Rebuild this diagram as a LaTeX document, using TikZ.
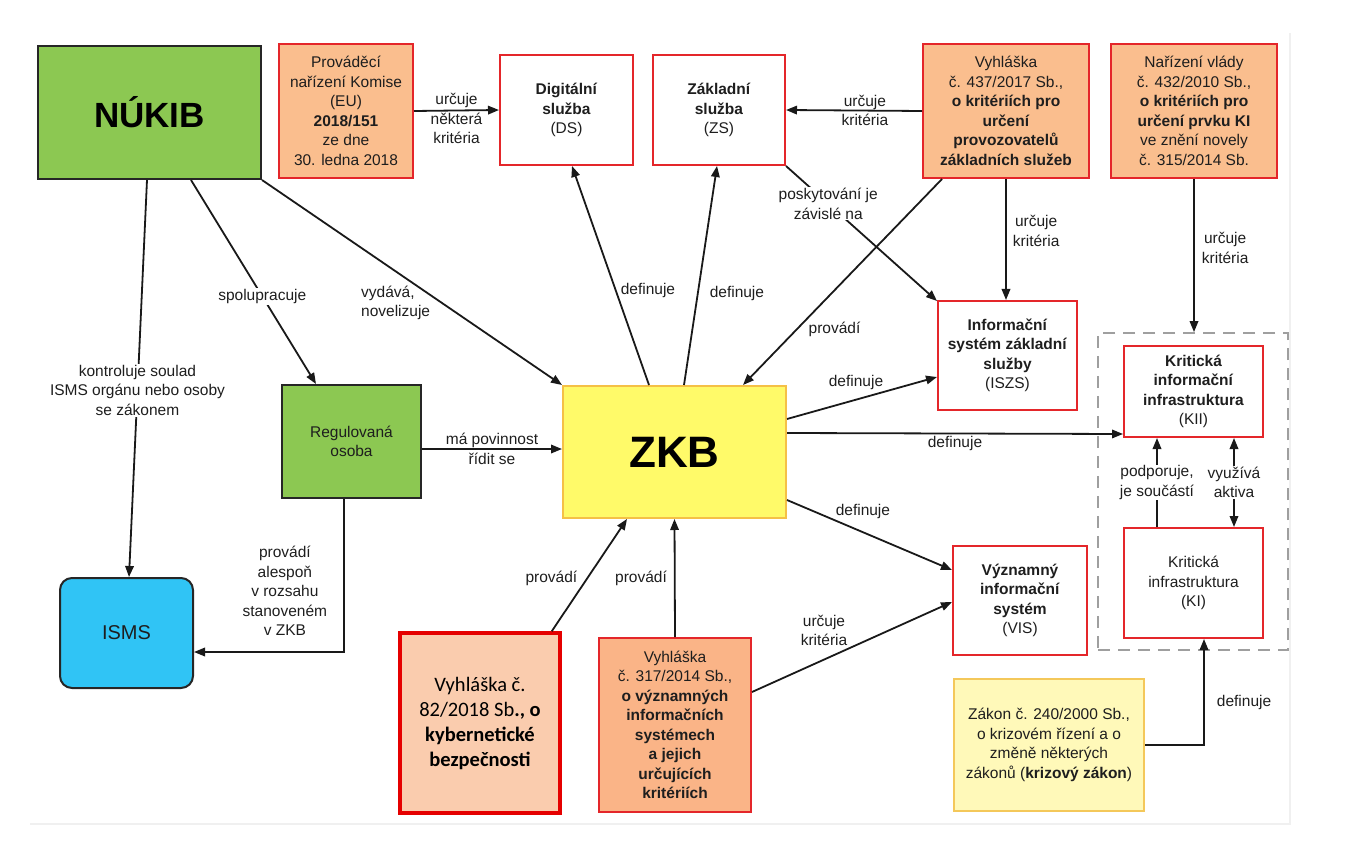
\documentclass[tikz,border=0pt]{standalone}
\usepackage{fontspec}
\setmainfont{Liberation Sans}
\newfontfamily\carlito{Carlito}
\usepackage{xcolor}
\usetikzlibrary{arrows.meta, positioning, calc}

\definecolor{nukibgreen}{RGB}{140,200,82}
\definecolor{lawred}{RGB}{228,38,42}
\definecolor{laworange}{RGB}{250,190,142}
\definecolor{lawpeach}{RGB}{250,204,174}
\definecolor{zkbyellow}{RGB}{255,250,105}
\definecolor{zkbborder}{RGB}{245,192,70}
\definecolor{ismsblue}{RGB}{48,196,245}
\definecolor{zakonfill}{RGB}{255,249,185}
\definecolor{zakonborder}{RGB}{244,200,90}
\definecolor{txt}{RGB}{30,30,30}

\tikzset{wh/.style 2 args={minimum width=#1pt, minimum height=#2pt, inner sep=2pt}}

\begin{document}
\begin{tikzpicture}[
  x=1pt, y=-1pt,
  every node/.style = {font=\fontsize{15.5}{19.5}\selectfont, text=txt, align=center},
  gbox/.style  = {draw=black!85, line width=2pt, fill=nukibgreen},
  rbox/.style  = {draw=lawred, line width=2pt, fill=white},
  obox/.style  = {draw=lawred, line width=2pt, fill=laworange},
  lbl/.style   = {inner sep=1pt},
  wlbl/.style  = {lbl, fill=white},
  grp/.style   = {draw=gray!75, line width=1.8pt, dash pattern=on 12pt off 8pt},
  arr/.style   = {-{Triangle[length=11pt,width=8.5pt]}, line width=1.8pt, draw=black!90},
  pageedge/.style = {draw=gray!12, line width=2.5pt},
]
\useasboundingbox (0,0) rectangle (1365,842);
\draw[pageedge] (30,824) -- (1290,824) -- (1290,33);

% Row 1 -- authority and regulations on top
\node[gbox, wh={223}{133}, font=\bfseries\fontsize{35}{40}\selectfont, text=black] (nukib) at (149.5,112.5) {NÚKIB};
\node[obox, wh={134}{134}] (prov) at (346,111)
  {Prováděcí\\nařízení Komise\\(EU)\\\textbf{2018/151}\\ze dne\\30. ledna 2018};
\node[rbox, wh={133}{110}] (ds) at (566.5,110) {\textbf{Digitální}\\\textbf{služba}\\(DS)};
\node[rbox, wh={132}{110}] (zs) at (719,110) {\textbf{Základní}\\\textbf{služba}\\(ZS)};
\node[obox, wh={166}{134}] (v437) at (1006,111)
  {Vyhláška\\č. 437/2017 Sb.,\\\textbf{o kritériích pro}\\\textbf{určení}\\\textbf{provozovatelů}\\\textbf{základních služeb}};
\node[obox, wh={166}{134}] (nv) at (1194,111)
  {Nařízení vlády\\č. 432/2010 Sb.,\\\textbf{o kritériích pro}\\\textbf{určení prvku KI}\\ve znění novely\\č. 315/2014 Sb.};

% Row 2 -- middle
\node[rbox, wh={139}{109}] (iszs) at (1007.5,355.5)
  {\textbf{Informační}\\\textbf{systém základní}\\\textbf{služby}\\(ISZS)};
\node[gbox, wh={139}{113}] (reg) at (351.5,441.5) {Regulovaná\\osoba};
\node[draw=zkbborder, line width=2pt, fill=zkbyellow, wh={223}{132},
      font=\bfseries\fontsize{44}{50}\selectfont, text=black] (zkb) at (674.5,452) {ZKB};

% Critical infrastructure group
\node[grp, wh={190}{317}] (grp) at (1193,491.5) {};
\node[rbox, wh={139}{91}] (kii) at (1193.5,391.5)
  {\textbf{Kritická}\\\textbf{informační}\\\textbf{infrastruktura}\\(KII)};
\node[rbox, wh={139}{110}] (ki) at (1193.5,583) {Kritická\\infrastruktura\\(KI)};

% Row 3 -- bottom
\node[draw=black!85, line width=2pt, fill=ismsblue, rounded corners=12pt, wh={133}{110},
      font=\fontsize{20}{24}\selectfont] (isms) at (126.5,633) {ISMS};
\node[rbox, wh={134}{109}] (vis) at (1020,600.5)
  {\textbf{Významný}\\\textbf{informační}\\\textbf{systém}\\(VIS)};
\node[draw=red!90!black, line width=3.5pt, fill=lawpeach, wh={160}{180},
      font=\carlito\fontsize{20.5}{25}\selectfont, text=black] (v82) at (480,723)
  {Vyhláška č.\\82/2018 Sb\textbf{., o}\\\textbf{kybernetické}\\\textbf{bezpečnosti}};
\node[obox, fill=laworange!95!red, wh={152}{174}] (v317) at (675,725)
  {Vyhláška\\č. 317/2014 Sb.,\\\textbf{o významných}\\\textbf{informačních}\\\textbf{systémech}\\\textbf{a jejich}\\\textbf{určujících}\\\textbf{kritériích}};
\node[draw=zakonborder, line width=2pt, fill=zakonfill, wh={190}{132}] (zakon) at (1049,745)
  {Zákon č. 240/2000 Sb.,\\o krizovém řízení a o\\změně některých\\zákonů (\textbf{krizový zákon})};

% Arrows -- top row
\draw[arr] (prov.east) -- (ds.west)
  node[lbl, midway, yshift=-8pt] {určuje\\některá\\kritéria};
\draw[arr] (v437.west) -- (zs.east)
  node[lbl, pos=0.42] {určuje\\kritéria};
\draw[arr] (v437.south) -- (v437.south |- iszs.north)
  node[lbl, pos=0.43, right=5pt] {určuje\\kritéria};
\draw[arr] (nv.south) -- (nv.south |- grp.north)
  node[lbl, pos=0.45, right=6pt] {určuje\\kritéria};
\draw[arr] ([xshift=20pt]v437.south west) -- ([xshift=-44pt]zkb.north east)
  node[lbl, pos=0.73, right=10pt] {provádí};
\draw[arr] (zs.south east) -- ([yshift=-1pt]iszs.north west)
  node[wlbl, pos=0.28] {poskytování je\\závislé na};

% Arrows -- from NÚKIB
\draw[arr] ([xshift=-2.5pt]nukib.south) -- ([xshift=2.5pt]isms.north)
  node[wlbl, pos=0.53] {kontroluje soulad\\ISMS orgánu nebo osoby\\se zákonem};
\draw[arr] ([xshift=154pt]nukib.south west) -- ([xshift=35pt]reg.north west)
  node[wlbl, pos=0.57] {spolupracuje};
\draw[arr] (nukib.south east) -- (zkb.north west)
  node[lbl, pos=0.6, left=10pt, align=left] {vydává,\\novelizuje};

% Arrows -- around ZKB
\draw[arr] ([yshift=-7.5pt]reg.east) -- ([yshift=3pt]zkb.west)
  node[lbl, midway] {má povinnost\\řídit se};
\draw[arr] ([xshift=-7.5pt]reg.south) |- ([yshift=-19pt]isms.east)
  node[lbl, pos=0.3, left=15pt] {provádí\\alespoň\\v rozsahu\\stanoveném\\v ZKB};
\draw[arr] ([xshift=87pt]zkb.north west) -- ([xshift=5.5pt]ds.south)
  node[lbl, pos=0.43, right=3pt] {definuje};
\draw[arr] ([xshift=122pt]zkb.north west) -- ([xshift=-2pt]zs.south)
  node[lbl, pos=0.42, right=10pt] {definuje};
\draw[arr] ([yshift=33pt]zkb.east) -- ([yshift=-21.5pt]iszs.west)
  node[lbl, pos=0.46, above=8pt] {definuje};
\draw[arr] ([yshift=19pt]zkb.east) -- ([yshift=4pt]kii.south west)
  node[lbl, midway, below=1pt] {definuje};
\draw[arr] ([yshift=19pt]zkb.south east) -- ([yshift=30.5pt]vis.west)
  node[lbl, pos=0.46, above=12pt] {definuje};
\draw[arr] ([xshift=-10pt]v82.north east) -- ([xshift=65pt]zkb.south west)
  node[lbl, pos=0.47, left=8pt] {provádí};
\draw[arr] (v317.north) -- (zkb.south)
  node[lbl, pos=0.5, left=6pt] {provádí};
\draw[arr] ([yshift=33pt]v317.east) -- ([yshift=-1.5pt]vis.west)
  node[lbl, pos=0.36, above=12pt] {určuje\\kritéria};

% Arrows -- critical infrastructure
\draw[arr] ([xshift=34pt]ki.north west) -- ([xshift=34pt]kii.south west)
  node[wlbl, midway] {podporuje,\\je součástí};
\draw[arr, {Triangle[length=11pt,width=8.5pt]}-{Triangle[length=11pt,width=8.5pt]}]
  ([xshift=-30pt]kii.south east) -- ([xshift=-30pt]ki.north east)
  node[wlbl, midway] {využívá\\aktiva};
\draw[arr] (zakon.east) -| ([xshift=10.5pt]ki.south)
  node[lbl, pos=0.7, right=11pt] {definuje};
\end{tikzpicture}
\end{document}
